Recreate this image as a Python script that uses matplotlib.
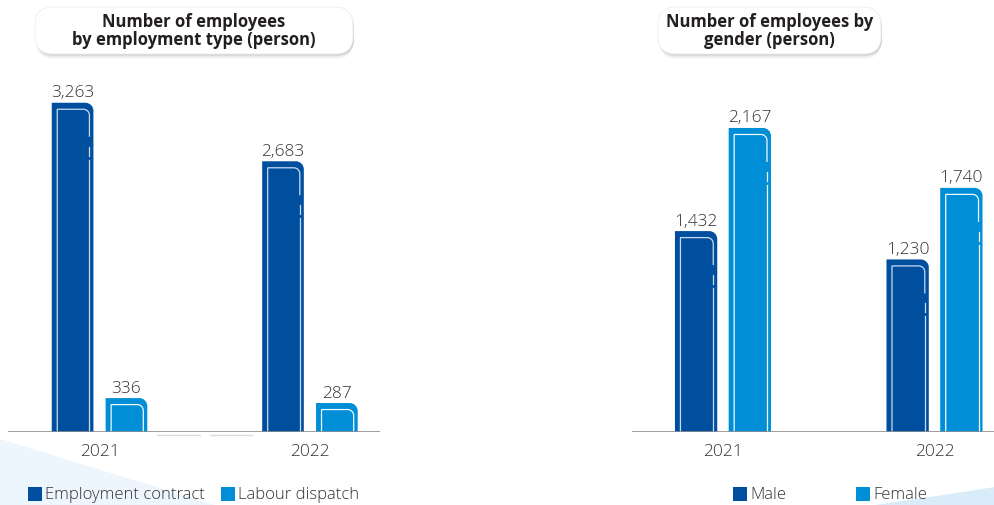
import matplotlib
matplotlib.use("Agg")
import matplotlib.pyplot as plt
from matplotlib.path import Path
from matplotlib.patches import PathPatch, FancyBboxPatch, Polygon, Rectangle
from matplotlib.lines import Line2D

# ---- data ----
years = ["2021", "2022"]
type_labels = ["Employment contract", "Labour dispatch"]
employment_contract = [3263, 2683]
labour_dispatch = [336, 287]
gender_labels = ["Male", "Female"]
male = [1432, 1230]
female = [2167, 1740]

DARK = "#004f9f"
LIGHT = "#008fd6"
TEXT = "#333333"
FONT = "Open Sans"
LIGHT_WEIGHT = "light"

W, H = 995, 506
fig = plt.figure(figsize=(W / 100, H / 100), dpi=100)
fig.patch.set_facecolor("white")


def fx(x):
    return x / W


def fy(y):
    return 1 - y / H


# soft background shapes
fig.patches.append(Polygon([[fx(0), fy(440)], [fx(215), fy(506)], [fx(0), fy(506)]],
                           closed=True, transform=fig.transFigure,
                           facecolor="#eef6fd", edgecolor="none", zorder=0))
fig.patches.append(Polygon([[fx(875), fy(506)], [fx(930), fy(498)], [fx(995), fy(488)],
                            [fx(995), fy(506)]],
                           closed=True, transform=fig.transFigure,
                           facecolor="#d9ecf9", edgecolor="none", zorder=0))


def title_box(x0, x1, y0, y1, text):
    w, h = fx(x1) - fx(x0), fy(y0) - fy(y1)
    for i, a in enumerate([0.06, 0.05, 0.04, 0.03, 0.02]):
        fig.patches.append(FancyBboxPatch((fx(x0 + 1), fy(y1 + 1 + i)), w, h,
                                          boxstyle="round,pad=0,rounding_size=0.018",
                                          transform=fig.transFigure, mutation_aspect=W / H,
                                          facecolor="black", edgecolor="none", alpha=a, zorder=1))
    fig.patches.append(FancyBboxPatch((fx(x0), fy(y1)), w, h,
                                      boxstyle="round,pad=0,rounding_size=0.018",
                                      transform=fig.transFigure, mutation_aspect=W / H,
                                      facecolor="white", edgecolor="#eeeeee", linewidth=0.6,
                                      zorder=2))
    fig.text(fx((x0 + x1) / 2), fy((y0 + y1) / 2 - 0.5), text, ha="center", va="center",
             fontsize=12, fontweight="bold", family=FONT, color="#231f20",
             linespacing=0.95, zorder=3)


title_box(35, 353, 8, 55, "Number of employees\nby employment type (person)")
title_box(658, 881, 8, 55, "Number of employees by\ngender (person)")


def make_axes(px0, px1, ybase, ytop):
    ax = fig.add_axes([fx(px0), fy(ybase), fx(px1) - fx(px0), fy(ytop) - fy(ybase)])
    ax.set_facecolor("none")
    for s in ax.spines.values():
        s.set_visible(False)
    ax.set_xticks([])
    ax.set_yticks([])
    return ax


def draw_bar(ax, xc, width, value, color, ppx, ppy, line_color):
    x0, x1 = xc - width / 2, xc + width / 2
    r = 8
    rx, ry = r / ppx, r / ppy
    k = 0.5523
    verts = [(x0, 0), (x0, value), (x1 - rx, value),
             (x1 - rx * (1 - k), value), (x1, value - ry * (1 - k)), (x1, value - ry),
             (x1, 0), (x0, 0)]
    codes = [Path.MOVETO, Path.LINETO, Path.LINETO,
             Path.CURVE4, Path.CURVE4, Path.CURVE4,
             Path.LINETO, Path.CLOSEPOLY]
    ax.add_patch(PathPatch(Path(verts, codes), facecolor=color, edgecolor="none", zorder=2))

    # inner highlight line
    xi0, xi1 = x0 + 5.5 / ppx, x1 - 4 / ppx
    hi = value - 6.5 / ppy
    ri = 6
    rix, riy = ri / ppx, ri / ppy
    hpx = value * ppy
    bottom_first = value - 34 / ppy if hpx > 80 else 0
    verts = [(xi0, 0), (xi0, hi), (xi1 - rix, hi),
             (xi1 - rix * (1 - k), hi), (xi1, hi - riy * (1 - k)), (xi1, hi - riy),
             (xi1, bottom_first)]
    codes = [Path.MOVETO, Path.LINETO, Path.LINETO,
             Path.CURVE4, Path.CURVE4, Path.CURVE4, Path.LINETO]
    ax.add_patch(PathPatch(Path(verts, codes), facecolor="none", edgecolor=line_color,
                           linewidth=0.9, zorder=3))
    if hpx > 80:
        ax.add_line(Line2D([xi1, xi1], [value - 44 / ppy, value - 53 / ppy],
                           color=line_color, linewidth=0.9, zorder=3))
        ax.add_line(Line2D([xi1, xi1], [value - 57 / ppy, 0],
                           color=line_color, linewidth=0.9, zorder=3))
    ax.text(xc, value + 2.5 / ppy, f"{value:,}", ha="center", va="bottom",
            fontsize=12.5, family=FONT, fontweight=LIGHT_WEIGHT, color=TEXT, zorder=4)


def panel(px0, px1, xlim, ylim, ytop, series, colors, offset, width, gaps=False):
    ax = make_axes(px0, px1, 433, ytop)
    ax.set_xlim(*xlim)
    ax.set_ylim(*ylim)
    ppx = (px1 - px0) / (xlim[1] - xlim[0])
    ppy = (433 - ytop) / (ylim[1] - ylim[0])
    ax.axhline(0, color="#8c8c8c", linewidth=1.2, zorder=5)
    for si, (vals, col) in enumerate(zip(series, colors)):
        off = -offset if si == 0 else offset
        lc = "#c9daf0" if col == DARK else "#f2f8fd"
        for i, v in enumerate(vals):
            draw_bar(ax, i + off, width, v, col, ppx, ppy, lc)
    for i, y in enumerate(years):
        ax.text(i, -11 / ppy, y, ha="center", va="top", fontsize=12.5,
                family=FONT, fontweight=LIGHT_WEIGHT, color=TEXT, clip_on=False)
    if gaps:
        for a, b in [(157, 200), (210, 252)]:
            ax.add_line(Line2D([xlim[0] + (a - px0) / ppx, xlim[0] + (b - px0) / ppx],
                               [-2.5 / ppy, -2.5 / ppy], color="#dcdcdc", linewidth=1.0,
                               clip_on=False, zorder=1))
    return ax


panel(8, 380, (-0.435, 1.333), (0, 3300), 433 - 3300 * 0.1009,
      [employment_contract, labour_dispatch], [DARK, LIGHT], 0.128, 0.198, gaps=True)
panel(632, 995, (-0.430, 1.286), (0, 2400), 433 - 2400 * 0.1403,
      [male, female], [DARK, LIGHT], 0.127, 0.2)


def legend_item(x, y, color, label):
    fig.patches.append(Rectangle((fx(x), fy(y + 7)), fx(14), 14 / H,
                                 transform=fig.transFigure, facecolor=color,
                                 edgecolor="none", zorder=3))
    fig.text(fx(x + 17), fy(y), label, ha="left", va="center", fontsize=12,
             family=FONT, fontweight=LIGHT_WEIGHT, color=TEXT, zorder=3)


legend_item(28, 495, DARK, type_labels[0])
legend_item(221, 495, LIGHT, type_labels[1])
legend_item(733, 495, DARK, gender_labels[0])
legend_item(856, 495, LIGHT, gender_labels[1])

fig.savefig("out.png", dpi=100, facecolor="white")
